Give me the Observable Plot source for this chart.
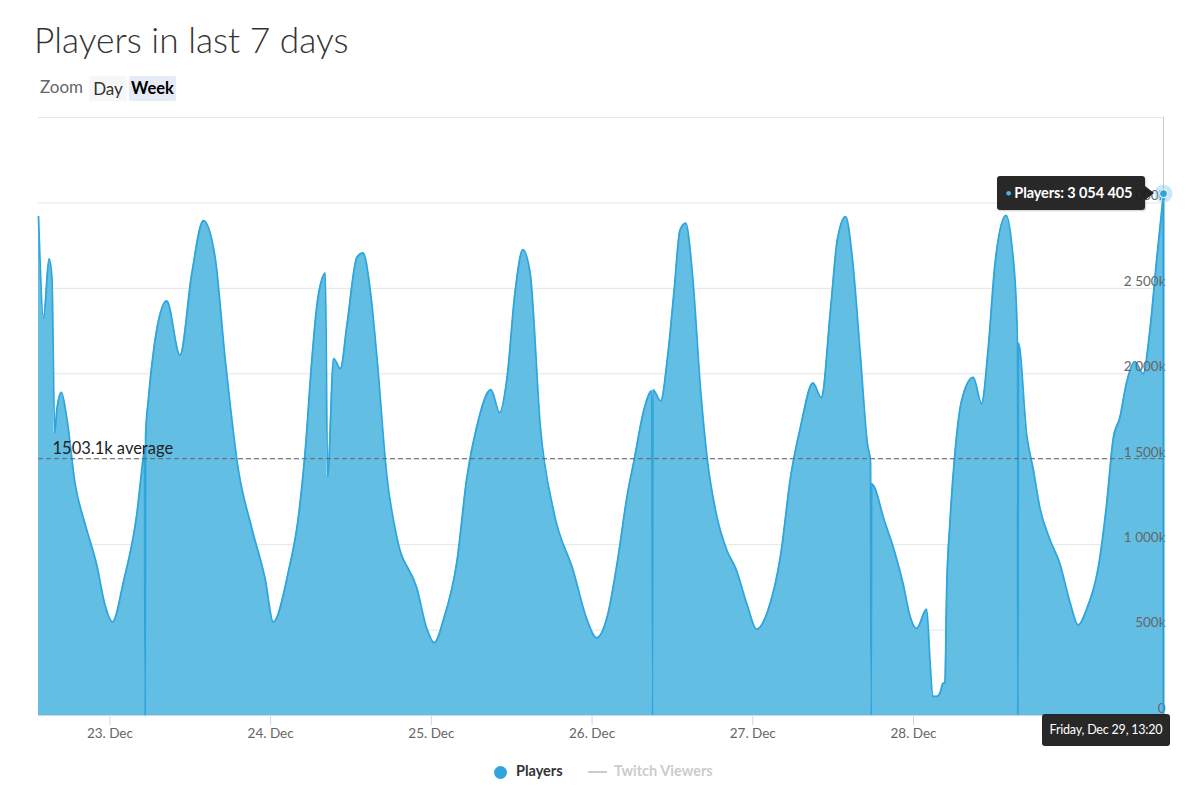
<!DOCTYPE html>
<html>
<head>
<meta charset="utf-8">
<script src="https://cdn.jsdelivr.net/npm/d3@7"></script>
<script src="https://cdn.jsdelivr.net/npm/@observablehq/plot@0.6"></script>
<style>
  html, body { margin: 0; padding: 0; background: #fff; }
  body { width: 1200px; height: 792px; position: relative; overflow: hidden; font-family: Lato, "Open Sans", sans-serif; }
  #title { position: absolute; left: 34px; top: 18px; font-size: 35.3px; font-weight: 300; color: #333; white-space: nowrap; }
  #zoom { position: absolute; left: 40px; top: 76px; font-size: 17px; color: #666; }
  .btn { position: absolute; top: 76px; height: 25px; line-height: 25px; font-size: 17px; color: #333; text-align: center; border-radius: 2px; }
  #day { left: 89px; width: 38px; background: #f7f7f7; }
  #week { left: 129px; width: 47px; background: #e6ebf5; font-weight: 700; color: #000; font-size: 16.5px; }
  #chart { position: absolute; left: 0; top: 100px; }
  #tip { position: absolute; left: 997px; top: 176px; width: 148px; height: 34px; background: rgba(28,28,28,0.95); border-radius: 3px; color: #fff; font-size: 14.5px; font-weight: 700; line-height: 34px; white-space: nowrap; box-shadow: 1px 1px 2px rgba(0,0,0,0.2); letter-spacing: -0.1px; }
  #tip .b { color: #4db5e6; font-size: 9px; margin-left: 9px; margin-right: 3px; vertical-align: 2px; }
  #tipArrow { position: absolute; left: 1145px; top: 186px; width: 0; height: 0; border-top: 7px solid transparent; border-bottom: 7px solid transparent; border-left: 9px solid rgba(28,28,28,0.95); }
  #dateTip { position: absolute; left: 1042px; top: 714px; width: 128px; height: 32px; background: rgba(28,28,28,0.95); border-radius: 3px; color: #fff; font-size: 12.5px; line-height: 32px; text-align: center; white-space: nowrap; letter-spacing: -0.2px; }
  .leg { position: absolute; top: 762px; font-size: 14.5px; font-weight: 700; white-space: nowrap; }
  #legDot { position: absolute; left: 494px; top: 766px; width: 13px; height: 13px; border-radius: 50%; background: #2ea5dc; }
  #legLine { position: absolute; left: 588px; top: 771px; width: 19px; height: 2px; background: #ccc; }
</style>
</head>
<body>
<div id="title"></div>
<div id="zoom"></div>
<div class="btn" id="day"></div>
<div class="btn" id="week"></div>
<div id="chart"></div>
<div id="tip"></div>
<div id="tipArrow"></div>
<div id="dateTip"></div>
<div id="legDot"></div>
<div class="leg" id="leg1" style="left:516px;color:#333"></div>
<div id="legLine"></div>
<div class="leg" id="leg2" style="left:614px;color:#ccc"></div>
<script>
// ---------- data ----------
const year = 2023;
const times = [
  "12-22 13:20","12-22 14:05","12-22 14:55","12-22 15:20","12-22 15:45","12-22 16:05","12-22 16:45","12-22 17:35",
  "12-22 18:48","12-22 20:18","12-22 22:02","12-22 23:17","12-23 00:23","12-23 02:01","12-23 04:01","12-23 05:00",
  "12-23 05:10","12-23 05:15","12-23 05:20","12-23 05:45","12-23 06:30","12-23 08:29","12-23 10:28","12-23 12:13",
  "12-23 13:58","12-23 15:42","12-23 17:12","12-23 19:11","12-23 21:10","12-23 23:10","12-24 00:24","12-24 02:39",
  "12-24 04:08","12-24 05:08","12-24 06:08","12-24 06:52","12-24 07:52","12-24 08:10","12-24 08:30","12-24 09:25",
  "12-24 10:25","12-24 11:24","12-24 12:54","12-24 13:48","12-24 14:53","12-24 15:53","12-24 17:22","12-24 18:52",
  "12-24 21:51","12-24 23:21","12-25 00:26","12-25 01:50","12-25 03:49","12-25 05:19","12-25 06:48","12-25 08:54",
  "12-25 10:12","12-25 11:17","12-25 12:31","12-25 13:40","12-25 14:46","12-25 16:16","12-25 18:15","12-25 21:14",
  "12-25 23:13","12-26 00:40","12-26 02:18","12-26 03:47","12-26 05:17","12-26 06:17","12-26 07:46","12-26 08:55",
  "12-26 09:00","12-26 09:05","12-26 10:15","12-26 11:15","12-26 12:15","12-26 13:08","12-26 13:59","12-26 14:59",
  "12-26 16:14","12-26 17:13","12-26 18:27","12-26 20:12","12-26 21:27","12-26 23:11","12-27 00:35","12-27 02:10",
  "12-27 04:10","12-27 05:39","12-27 07:09","12-27 08:59","12-27 10:14","12-27 11:38","12-27 12:37","12-27 13:52",
  "12-27 14:51","12-27 16:06","12-27 17:06","12-27 17:35","12-27 17:40","12-27 17:45","12-27 19:40","12-27 21:10",
  "12-27 22:29","12-27 23:29","12-28 00:28","12-28 01:58","12-28 02:28","12-28 02:52","12-28 03:28","12-28 03:58",
  "12-28 04:21","12-28 04:42","12-28 04:57","12-28 05:27","12-28 06:12","12-28 07:12","12-28 08:56","12-28 10:10",
  "12-28 11:10","12-28 12:10","12-28 13:49","12-28 14:39","12-28 15:24","12-28 15:30","12-28 15:35","12-28 15:40",
  "12-28 16:54","12-28 17:54","12-28 18:53","12-28 20:22","12-28 21:52","12-28 23:22","12-29 00:36","12-29 01:51",
  "12-29 03:51","12-29 04:50","12-29 05:50","12-29 06:49","12-29 07:49","12-29 09:04","12-29 10:18","12-29 11:18",
  "12-29 12:18","12-29 13:03","12-29 13:20"
];
// players, in thousands
const playersK = [
  2920,2327,2673,2564,1653,1792,1891,1733,
  1356,1119,881,644,548,782,1178,1515,
  1560,0,1640,1851,2129,2426,2109,2584,
  2897,2683,2089,1436,1099,802,548,842,
  1158,1535,2069,2386,2574,2590,1396,2089,
  2030,2287,2683,2707,2485,2089,1396,1040,
  743,505,426,564,901,1396,1693,1907,
  1772,1970,2485,2726,2584,1693,1198,842,
  564,455,584,901,1297,1495,1792,1900,
  0,1905,1841,2089,2485,2841,2881,2584,
  1891,1495,1198,960,861,644,505,604,
  941,1396,1693,1946,1861,2386,2782,2920,
  2683,2089,1594,1480,0,1356,1138,960,
  765,581,510,622,316,112,112,133,
  184,194,724,1132,1540,1846,1979,1826,
  2152,2642,2927,2764,2356,2200,0,2180,
  1642,1438,1214,1030,887,663,530,622,
  928,1234,1622,1744,1948,2071,2000,2254,
  2662,2948,3054.405
];
const yTickValues = [0, 500000, 1000000, 1500000, 2000000, 2500000, 3000000, 3500000];
const yTickLabels = ["0", "500k", "1 000k", "1 500k", "2 000k", "2 500k", "3 000k", ""];
const xTickDates = ["12-23 00:00", "12-24 00:00", "12-25 00:00", "12-26 00:00", "12-27 00:00", "12-28 00:00"];
const xTickLabels = ["23. Dec", "24. Dec", "25. Dec", "26. Dec", "27. Dec", "28. Dec"];
const averageValue = 1503100;
const averageLabel = "1503.1k average";
const titleText = "Players in last 7 days";
const zoomLabels = ["Zoom", "Day", "Week"];
const tooltipLabel = "Players: 3 054 405";
const hoverDateLabel = "Friday, Dec 29, 13:20";
const legendLabels = ["Players", "Twitch Viewers"];

// ---------- build ----------
const parse = s => new Date(`${year}-${s.replace(" ", "T")}:00Z`);
const data = times.map((t, i) => ({ t: parse(t), v: playersK[i] * 1000 }));
const last = data[data.length - 1];
const xTicks = xTickDates.map(parse);
const xLabelOf = new Map(xTicks.map((d, i) => [+d, xTickLabels[i]]));

document.getElementById("title").textContent = titleText;
document.getElementById("zoom").textContent = zoomLabels[0];
document.getElementById("day").textContent = zoomLabels[1];
document.getElementById("week").textContent = zoomLabels[2];
document.getElementById("tip").innerHTML = `<span class="b">●</span>${tooltipLabel}`;
document.getElementById("dateTip").textContent = hoverDateLabel;
document.getElementById("leg1").textContent = legendLabels[0];
document.getElementById("leg2").textContent = legendLabels[1];

const fillColor = "#63bee3";
const lineColor = "#2ea5dc";

const chart = Plot.plot({
  width: 1200,
  height: 660,
  marginTop: 17,
  marginBottom: 45,
  marginLeft: 38,
  marginRight: 37,
  style: { fontFamily: "Lato, 'Open Sans', sans-serif", fontSize: "13px", color: "#666", background: "transparent", overflow: "visible" },
  x: { type: "utc", domain: [data[0].t, last.t] },
  y: { domain: [0, 3500000] },
  marks: [
    Plot.gridY(yTickValues, { stroke: "#e6e6e6", strokeOpacity: 1 }),
    Plot.areaY(data, { x: "t", y: "v", fill: fillColor, fillOpacity: 1, curve: "monotone-x" }),
    Plot.lineY(data, { x: "t", y: "v", stroke: lineColor, strokeWidth: 1.8, curve: "monotone-x" }),
    Plot.ruleY([0], { stroke: "#ccd6eb" }),
    Plot.axisX({ ticks: xTicks, tickFormat: d => xLabelOf.get(+d), tickSize: 10, tickPadding: 3, stroke: "#ccd6eb", fill: "#666", fontSize: 13.5, label: null }),
    Plot.axisY({ ticks: [], label: null }),
    Plot.text(yTickValues, { y: d => d, text: (d, i) => yTickLabels[i], frameAnchor: "right", textAnchor: "end", dx: 2, dy: -7, fill: "#666", fontSize: 13.5 }),
    Plot.ruleY([averageValue], { stroke: "#666", strokeDasharray: "5,3", strokeWidth: 1 }),
    Plot.text([{ t: data[0].t, v: averageValue, s: averageLabel }], { x: "t", y: "v", text: "s", textAnchor: "start", dx: 14, dy: -10, fill: "#222", fontSize: 16.5 }),
    Plot.ruleX([last], { x: "t", y1: 3500000, y2: "v", stroke: "#cccccc" }),
    Plot.ruleX([last], { x: "t", y1: 0, y2: "v", stroke: "#2a9fd6", strokeWidth: 2 }),
    Plot.dot([last], { x: "t", y: "v", r: 9, fill: fillColor, fillOpacity: 0.35 }),
    Plot.dot([last], { x: "t", y: "v", r: 4, fill: lineColor, stroke: "#fff", strokeWidth: 1 })
  ]
});
document.getElementById("chart").appendChild(chart);
</script>
</body>
</html>
